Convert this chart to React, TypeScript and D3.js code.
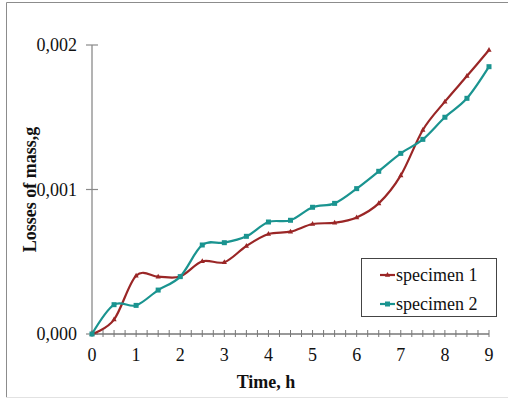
import * as d3 from "d3";

const width = 508;
const height = 399;

// time in hours, every half hour
const hours = [0, 0.5, 1, 1.5, 2, 2.5, 3, 3.5, 4, 4.5, 5, 5.5, 6, 6.5, 7, 7.5, 8, 8.5, 9];

const specimen1 = [
  0, 0.0001, 0.000403, 0.000397, 0.000398, 0.000503, 0.000497, 0.000609, 0.000692, 0.000708,
  0.000761, 0.00077, 0.000807, 0.000904, 0.001098, 0.001412, 0.001608, 0.001785, 0.001965,
];

const specimen2 = [
  0, 0.000203, 0.000198, 0.000304, 0.000397, 0.000616, 0.000632, 0.000676, 0.000775, 0.000787,
  0.000877, 0.000904, 0.001006, 0.001126, 0.00125, 0.001347, 0.0015, 0.001631, 0.00185,
];

const xTickLabels = [0, 1, 2, 3, 4, 5, 6, 7, 8, 9];
const yTickValues = [0, 0.001, 0.002];

const seriesNames = ["specimen 1", "specimen 2"];
const seriesColors = ["#9a2626", "#1a9490"];

const font = "'Liberation Serif', 'Times New Roman', serif";

const x = d3.scaleLinear().domain([0, 9]).range([92, 489]);
const y = d3.scaleLinear().domain([0, 0.002]).range([334, 45]);

const line = d3
  .line<number>()
  .x((_, i) => x(hours[i]))
  .y((d) => y(d))
  .curve(d3.curveCatmullRom.alpha(0));

// minor ticks on the time axis every quarter hour
const minorTicks = d3.range(0, 9.001, 0.25);

export default function App() {
  const series = [specimen1, specimen2];

  return (
    <div style={{ position: "absolute", left: 0, top: 0 }}>
      <svg width={width} height={height} style={{ display: "block", background: "#fff" }}>
        {/* chart area border */}
        <path d="M6.5,398 V2.5 H508" fill="none" stroke="#8c8c8c" strokeWidth={1} />
        <line x1={6} x2={508} y1={397.5} y2={397.5} stroke="#e2e2e2" />

        {/* y axis */}
        <line x1={x(0)} x2={x(0)} y1={y(0.002)} y2={y(0)} stroke="#9a9a9a" strokeWidth={1.5} />
        {yTickValues.map((v) => (
          <g key={v}>
            <line x1={86} x2={98} y1={y(v)} y2={y(v)} stroke="#8a8a8a" strokeWidth={1.2} />
            <text
              x={77}
              y={y(v) + 6}
              textAnchor="end"
              fontFamily={font}
              fontSize={18}
              fill="#111"
            >
              {d3.format(".3f")(v).replace(".", ",")}
            </text>
          </g>
        ))}

        {/* x axis */}
        <line x1={x(0)} x2={x(9)} y1={y(0)} y2={y(0)} stroke="#777" strokeWidth={1.3} />
        {minorTicks.map((t) => (
          <line
            key={t}
            x1={x(t)}
            x2={x(t)}
            y1={y(0) - 4}
            y2={y(0) + 3}
            stroke="#777"
            strokeWidth={1}
          />
        ))}
        {xTickLabels.map((t) => (
          <text
            key={t}
            x={x(t)}
            y={361}
            textAnchor="middle"
            fontFamily={font}
            fontSize={18}
            fill="#111"
          >
            {t}
          </text>
        ))}

        {/* axis titles */}
        <text
          x={266}
          y={388}
          textAnchor="middle"
          fontFamily={font}
          fontSize={18}
          fontWeight="bold"
          fill="#111"
        >
          Time, h
        </text>
        <text
          transform={`translate(36, ${(y(0) + y(0.002)) / 2}) rotate(-90)`}
          textAnchor="middle"
          fontFamily={font}
          fontSize={18}
          fontWeight="bold"
          fill="#111"
        >
          Losses of mass,g
        </text>

        {/* lines */}
        {series.map((s, si) => (
          <path
            key={si}
            d={line(s) ?? ""}
            fill="none"
            stroke={seriesColors[si]}
            strokeWidth={2.2}
          />
        ))}

        {/* markers */}
        {specimen1.map((v, i) => {
          const cx = x(hours[i]);
          const cy = y(v);
          return (
            <path
              key={"a" + i}
              d={`M${cx},${cy - 3} L${cx + 2.6},${cy + 1.8} L${cx - 2.6},${cy + 1.8} Z`}
              fill={seriesColors[0]}
            />
          );
        })}
        {specimen2.map((v, i) => (
          <rect
            key={"b" + i}
            x={x(hours[i]) - 2.5}
            y={y(v) - 2.5}
            width={5}
            height={5}
            fill={seriesColors[1]}
          />
        ))}

        {/* legend */}
        <rect x={361.5} y={258.5} width={135} height={58} fill="#fff" stroke="#444" strokeWidth={1} />
        {seriesNames.map((name, i) => {
          const ly = 275 + i * 29;
          return (
            <g key={name}>
              <line x1={380} x2={395} y1={ly} y2={ly} stroke={seriesColors[i]} strokeWidth={2.2} />
              {i === 0 ? (
                <path
                  d={`M387.5,${ly - 3} L390.1,${ly + 1.8} L384.9,${ly + 1.8} Z`}
                  fill={seriesColors[0]}
                />
              ) : (
                <rect x={385} y={ly - 2.5} width={5} height={5} fill={seriesColors[1]} />
              )}
              <text x={396} y={ly + 6} fontFamily={font} fontSize={18} fill="#111">
                {name}
              </text>
            </g>
          );
        })}
      </svg>
    </div>
  );
}
